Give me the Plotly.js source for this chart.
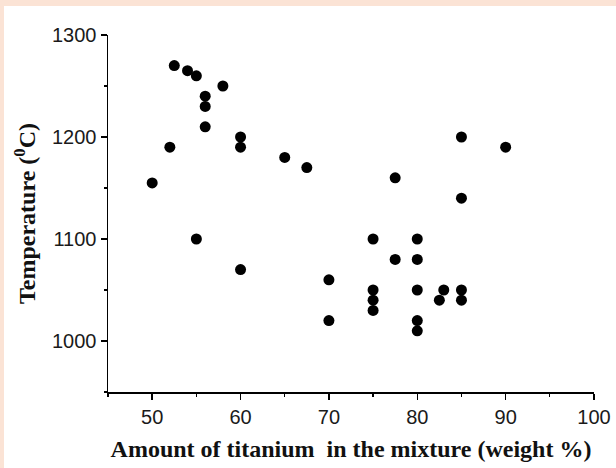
<!DOCTYPE html>
<html>
<head>
<meta charset="utf-8">
<script src="https://cdn.plot.ly/plotly-3.0.1.min.js"></script>
<style>
  html, body { margin: 0; padding: 0; background: #fbe3d5; width: 616px; height: 468px; overflow: hidden; }
  #chart { position: absolute; left: 4px; top: 6px; width: 612px; height: 462px; background: #ffffff; }
</style>
</head>
<body>
<div id="chart"></div>
<script>
// Amount of titanium (weight %)
const titanium = [50, 52, 52.5, 54, 55, 56, 56, 56, 58, 55,
                  60, 60, 60, 65, 67.5, 70, 70, 75, 75, 75,
                  75, 77.5, 77.5, 80, 80, 80, 80, 80, 82.5, 83,
                  85, 85, 85, 85, 90];
// Temperature (°C)
const temperature = [1155, 1190, 1270, 1265, 1260, 1240, 1230, 1210, 1250, 1100,
                     1200, 1190, 1070, 1180, 1170, 1060, 1020, 1100, 1050, 1040,
                     1030, 1160, 1080, 1100, 1080, 1050, 1020, 1010, 1040, 1050,
                     1200, 1140, 1050, 1040, 1190];
const xTicks = [50, 60, 70, 80, 90, 100];
const yTicks = [1000, 1100, 1200, 1300];

const trace = {
  x: titanium,
  y: temperature,
  type: 'scatter',
  mode: 'markers',
  marker: { color: '#000000', size: 11, line: { width: 0 } },
  hoverinfo: 'x+y'
};

const tickFont = { family: 'Liberation Sans, Arial, sans-serif', size: 20, color: '#1a1a1a' };
const titleFont = { family: 'Liberation Serif, Times New Roman, serif', size: 24, color: '#111111', weight: 'bold' };

const layout = {
  width: 612,
  height: 462,
  margin: { l: 104, r: 22, t: 29, b: 76, pad: 0 },
  paper_bgcolor: '#ffffff',
  plot_bgcolor: '#ffffff',
  showlegend: false,
  xaxis: {
    range: [45, 100],
    tickvals: xTicks,
    ticktext: xTicks.map(String),
    showgrid: false,
    zeroline: false,
    showline: true,
    linecolor: '#000000',
    linewidth: 1.5,
    ticks: 'outside',
    ticklen: 6,
    tickwidth: 1.5,
    tickcolor: '#000000',
    minor: { dtick: 5, ticks: 'outside', ticklen: 3, tickwidth: 1.2, tickcolor: '#000000', showgrid: false },
    tickfont: tickFont,
    title: { text: 'Amount of titanium&nbsp; in the mixture (weight %)', font: titleFont, standoff: 13 }
  },
  yaxis: {
    range: [950, 1300],
    tickvals: yTicks,
    ticktext: yTicks.map(String),
    showgrid: false,
    zeroline: false,
    showline: true,
    linecolor: '#000000',
    linewidth: 1.5,
    ticks: 'outside',
    ticklen: 6,
    tickwidth: 1.5,
    tickcolor: '#000000',
    minor: { dtick: 50, ticks: 'outside', ticklen: 3, tickwidth: 1.2, tickcolor: '#000000', showgrid: false },
    tickfont: tickFont,
    title: { text: 'Temperature (<sup>0</sup>C)', font: titleFont, standoff: 9 }
  }
};

Plotly.newPlot('chart', [trace], layout, { displayModeBar: false, staticPlot: true });
</script>
</body>
</html>
